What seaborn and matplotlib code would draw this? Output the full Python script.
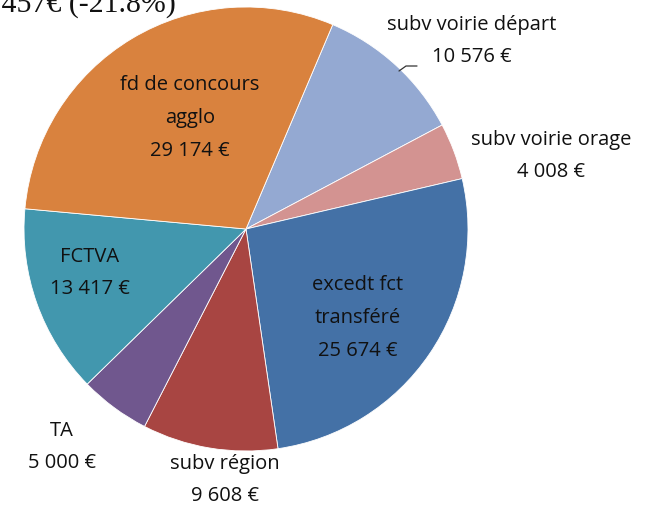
import numpy as np
import matplotlib
matplotlib.use("Agg")
import matplotlib.pyplot as plt
import seaborn as sns

# Slice data (clockwise, starting at the top-right edge)
categories = ["subv voirie départ", "subv voirie orage", "excedt fct\ntransféré",
              "subv région", "TA", "FCTVA", "fd de concours\nagglo"]
amounts = [10576, 4008, 25674, 9608, 5000, 13417, 29174]
colors = ["#94A9D2", "#D39391", "#4471A6", "#A84542", "#70578E", "#4297AE", "#D9823E"]
title_text = "97 457€ (-21.8%)"

sns.set_style("white")
plt.rcParams["font.family"] = ["Open Sans", "DejaVu Sans"]

W, H = 646, 507
fig = plt.figure(figsize=(W / 100, H / 100), dpi=100)
cx, cy, r = 246, 229, 222
ax = fig.add_axes([(cx - r) / W, (H - cy - r) / H, 2 * r / W, 2 * r / H])

wedges, _ = ax.pie(amounts, colors=colors, startangle=67, counterclock=False,
                   radius=1, wedgeprops=dict(edgecolor="white", linewidth=0.6))
ax.set_xlim(-1, 1)
ax.set_ylim(-1, 1)
ax.set_aspect("equal")
ax.axis("off")


def fmt(v):
    return f"{v:,}".replace(",", " ") + " €"


# label positions in pixel space of the figure
label_pos = [(472, 41), (551, 156), (358, 318), (225, 480), (62, 447), (90, 273), (190, 118)]
for cat, val, (px, py) in zip(categories, amounts, label_pos):
    fig.text(px / W, 1 - py / H, f"{cat}\n{fmt(val)}", ha="center", va="center",
             fontsize=14.5, color="#111111", linespacing=1.85)

# leader line for small slice label
fig.add_artist(plt.Line2D([399 / W, 406 / W, 417 / W], [1 - 71 / H, 1 - 66 / H, 1 - 66 / H],
                          color="#333333", linewidth=0.9))

fig.text(176 / W, 1 - 12 / H, title_text, ha="right", va="baseline",
         fontsize=21.5, family="Liberation Serif", color="#111111")

fig.savefig("out.png", dpi=100)
